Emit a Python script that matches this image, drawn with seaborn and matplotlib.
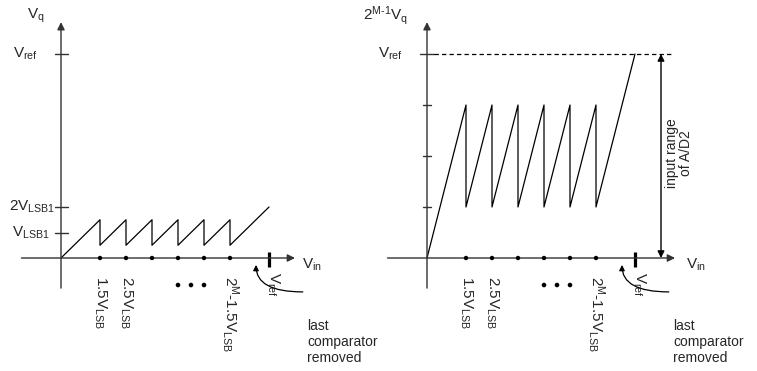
import numpy as np
import matplotlib
matplotlib.use("Agg")
import matplotlib.pyplot as plt
import seaborn as sns

sns.set_style("white")
plt.rcParams['font.family'] = ['Liberation Sans', 'DejaVu Sans']
plt.rcParams['mathtext.fontset'] = 'custom'
plt.rcParams['mathtext.rm'] = 'Liberation Sans'
plt.rcParams['mathtext.it'] = 'Liberation Sans'
plt.rcParams['mathtext.bf'] = 'Liberation Sans:bold'

# input voltage in units of V_LSB, output in units of V_LSB1
saw_x = [0, 1.5, 1.5, 2.5, 2.5, 3.5, 3.5, 4.5, 4.5, 5.5, 5.5, 6.5, 6.5, 8]
saw_vq = [0, 1.5, 0.5, 1.5, 0.5, 1.5, 0.5, 1.5, 0.5, 1.5, 0.5, 1.5, 0.5, 2]
saw_amp = [0, 6, 2, 6, 2, 6, 2, 6, 2, 6, 2, 6, 2, 8]   # 2^(M-1) * Vq
comp_x = [1.5, 2.5, 3.5, 4.5, 5.5, 6.5]
comp_y = [0, 0, 0, 0, 0, 0]
comp_labels = {1.5: r'$1.5V_{LSB}$', 2.5: r'$2.5V_{LSB}$', 6.5: r'$2^{M}$-1.5$V_{LSB}$'}
vref = 8
left_ticks = [(1, r'$V_{LSB1}$'), (2, r'$2V_{LSB1}$'), (8, r'$V_{ref}$')]
right_ticks = [2, 4, 6]

PX_X, PX_Y = 26.0, 25.5
W, H = 757, 371
ORIGIN_Y = 258
AX_COL = '#333333'
FS = 10      # plain text
FSM = 11     # math labels

fig = plt.figure(figsize=(W / 100, H / 100), dpi=100)


def make_axes(x0, x1, origin_x):
    ax = fig.add_axes([x0 / W, 0, (x1 - x0) / W, 1])
    ax.set_xlim((x0 - origin_x) / PX_X, (x1 - origin_x) / PX_X)
    ax.set_ylim((ORIGIN_Y - H) / PX_Y, ORIGIN_Y / PX_Y)
    ax.axis('off')
    return ax


def arrow(ax, start, end, style='-|>', lw=1.0, col=AX_COL, ms=11, conn=None):
    props = dict(arrowstyle=style, color=col, lw=lw, mutation_scale=ms,
                 shrinkA=0, shrinkB=0)
    if conn:
        props['connectionstyle'] = conn
    ax.annotate('', xy=end, xytext=start, arrowprops=props)


def common(ax, xend):
    # axes
    arrow(ax, (-1.52, 0), (xend, 0))
    arrow(ax, (0, -1.18), (0, 9.25))
    # comparator thresholds
    sns.scatterplot(x=comp_x, y=comp_y, ax=ax, color='black', s=10,
                    edgecolor='none', zorder=5)
    for x, lab in comp_labels.items():
        ax.text(x, -0.72, lab, rotation=-90, ha='center', va='top', fontsize=FSM)
    sns.scatterplot(x=[4.5, 5.0, 5.5], y=[-1.06] * 3, ax=ax, color='black',
                    s=11, edgecolor='none')
    # V_ref mark on x axis
    ax.plot([vref, vref], [-0.35, 0.25], color='black', lw=2.3, solid_capstyle='butt')
    ax.text(vref + 0.15, -0.55, r'$V_{ref}$', rotation=-90, ha='center', va='top',
            fontsize=FSM)
    # annotation arrow
    arrow(ax, (9.3, -1.33), (7.5, -0.27), lw=0.9, col='black', ms=8,
          conn='angle3,angleA=0,angleB=90')
    ax.text(9.46, -2.4, 'last\ncomparator\nremoved', ha='left', va='top',
            fontsize=FS, linespacing=1.15)


# ---- left panel
axl = make_axes(0, 378, 61)
common(axl, 9.0)
sns.lineplot(x=saw_x, y=saw_vq, ax=axl, sort=False, estimator=None,
             color='black', lw=0.9)
for y, lab in left_ticks:
    axl.plot([-0.25, 0.27], [y, y], color=AX_COL, lw=1)
axl.text(-0.42, 1, left_ticks[0][1], ha='right', va='center', fontsize=FSM)
axl.text(-0.22, 2, left_ticks[1][1], ha='right', va='center', fontsize=FSM)
axl.text(-0.88, 8, left_ticks[2][1], ha='right', va='center', fontsize=FSM)
axl.text(-0.96, 9.5, r'$V_q$', ha='center', va='center', fontsize=FSM)
axl.text(9.27, -0.27, r'$V_{in}$', ha='left', va='center', fontsize=FSM)

# ---- right panel
axr = make_axes(378, 757, 427)
common(axr, 9.54)
sns.lineplot(x=saw_x, y=saw_amp, ax=axr, sort=False, estimator=None,
             color='black', lw=0.9)
for y in right_ticks:
    axr.plot([-0.15, 0.17], [y, y], color=AX_COL, lw=1)
axr.plot([-0.27, 0.25], [vref, vref], color=AX_COL, lw=1)
axr.plot([0.25, 9.5], [vref, vref], color='black', lw=0.9, dashes=(3.5, 2.5))
axr.text(-0.92, 8, r'$V_{ref}$', ha='right', va='center', fontsize=FSM)
axr.text(-1.58, 9.5, r'$2^{M\text{-}1}V_q$', ha='center', va='center', fontsize=FSM)
axr.text(9.96, -0.27, r'$V_{in}$', ha='left', va='center', fontsize=FSM)
arrow(axr, (9.0, 0), (9.0, vref), style='<|-|>', lw=1.0, col='black', ms=10)
axr.text(9.68, 4.1, 'input range\nof A/D2', rotation=90, ha='center', va='center',
         multialignment='center', fontsize=FS, linespacing=1.0)

fig.savefig('out.png', dpi=100)
